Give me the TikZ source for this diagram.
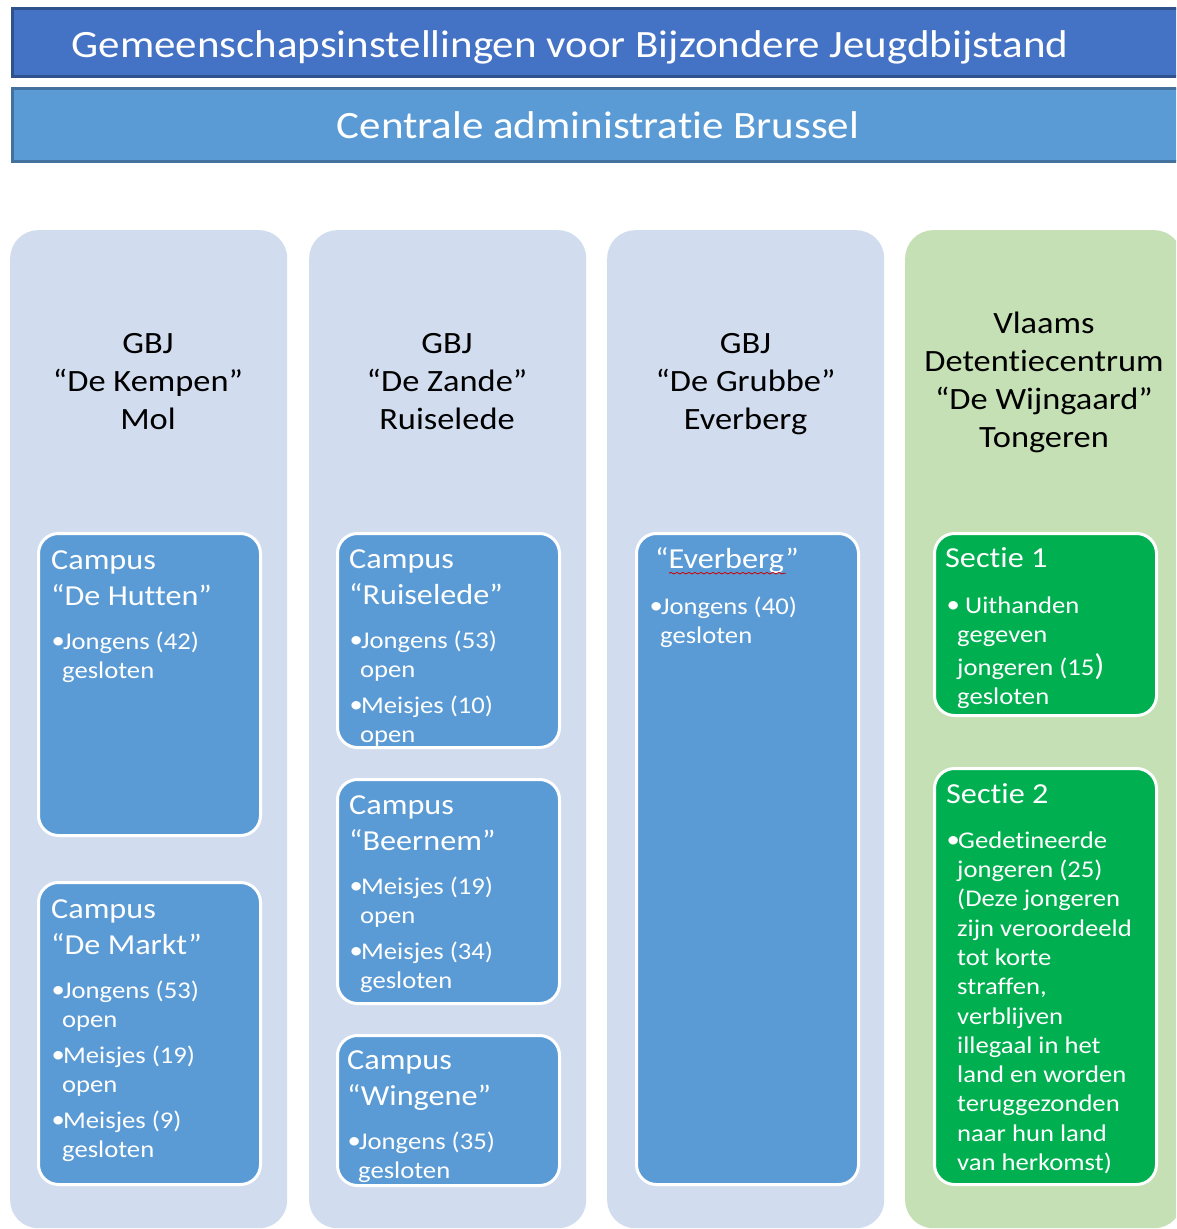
\documentclass[tikz,border=0pt]{standalone}
\usepackage{fontspec}
\setmainfont{Carlito}[FakeStretch=1.11, Ligatures=NoCommon]
\usetikzlibrary{decorations.pathmorphing}
\definecolor{hdrAfill}{HTML}{4472C4}
\definecolor{hdrAline}{HTML}{2F528F}
\definecolor{hdrBfill}{HTML}{5B9BD5}
\definecolor{hdrBline}{HTML}{41719C}
\definecolor{colblue}{HTML}{D1DDEF}
\definecolor{colgreen}{HTML}{C5E0B4}
\definecolor{boxblue}{HTML}{5B9BD5}
\definecolor{boxgreen}{HTML}{00B050}
\newcommand\hdrfont{\fontsize{38.7}{46}\selectfont}
\newcommand\colfont{\fontsize{31}{38}\selectfont}
\newcommand\ttlfont{\fontsize{29}{36}\selectfont}
\newcommand\bulfont{\fontsize{24}{29}\selectfont}
\newcommand\bul{\makebox[12pt][l]{\hspace*{0.5pt}\raisebox{0.5pt}{•}}}
\newcommand\bcont{\hspace*{11pt}}
\tikzset{
  hdrone/.style={draw=hdrAline, line width=2.5pt, fill=hdrAfill, rectangle, inner sep=0pt, anchor=north west},
  hdrtwo/.style={draw=hdrBline, line width=2.5pt, fill=hdrBfill, rectangle, inner sep=0pt, anchor=north west},
  hdrtext/.style={text=white, font=\hdrfont, inner sep=0pt, anchor=base},
  colbox/.style={fill=colblue, rounded corners=28pt, minimum width=277pt, minimum height=998pt, inner sep=0pt, anchor=north west},
  colgbox/.style={colbox, fill=colgreen},
  coltext/.style={text=black, font=\colfont, align=center, inner sep=0pt, anchor=north},
  campus/.style={fill=boxblue, draw=white, line width=3pt, rounded corners=20pt, minimum width=222pt, inner sep=0pt, anchor=north west},
  sectie/.style={campus, fill=boxgreen},
  ttl/.style={text=white, font=\ttlfont, align=left, inner sep=0pt, anchor=north west},
  bultext/.style={text=white, font=\bulfont, align=left, inner sep=0pt, anchor=north west},
}
\begin{document}
\begin{tikzpicture}[x=1pt,y=-1pt]
\useasboundingbox (0,0) rectangle (1176,1229);
\clip (0,0) rectangle (1176,1229);
\fill[white] (0,0) rectangle (1176,1229);

% headers
\node[hdrone, minimum width=1190pt, minimum height=68pt] (h1) at (11,7) {};
\node[hdrtext] (h1t) at (570,57) {Gemeenschapsinstellingen voor Bijzondere Jeugdbijstand};
\node[hdrtwo, minimum width=1190pt, minimum height=73pt] (h2) at (11,87) {};
\node[hdrtext] (h2t) at (598,138) {Centrale administratie Brussel};

% columns
\node[colbox] (c1) at (10,230) {};
\node[colbox] (c2) at (309,230) {};
\node[colbox] (c3) at (607,230) {};
\node[colgbox] (c4) at (905,230) {};

\node[coltext] (c1t) at (148,326.4) {\strut GBJ\\“De Kempen”\\Mol};
\node[coltext] (c2t) at (447,326.4) {\strut GBJ\\“De Zande”\\Ruiselede};
\node[coltext] (c3t) at (745.5,326.4) {\strut GBJ\\“De Grubbe”\\Everberg};
\node[coltext] (c4t) at (1044,306.4) {\strut Vlaams\\Detentiecentrum\\“De Wijngaard”\\Tongeren};

% column 1
\node[campus, minimum height=302pt] (b11) at (37,532) {};
\node[ttl] (b11t) at (51,543.8) {\strut Campus\\“De Hutten”};
\node[bultext] (b11b) at (51,628.7) {\strut\bul Jongens (42)\\\bcont gesloten};

\node[campus, minimum height=302pt] (b12) at (37,881) {};
\node[ttl] (b12t) at (51,892.8) {\strut Campus\\“De Markt”};
\node[bultext] (b12b) at (51,977.7) {\strut\bul Jongens (53)\\\bcont open\\[7pt]\bul Meisjes (19)\\\bcont open\\[7pt]\bul Meisjes (9)\\\bcont gesloten};

% column 2
\node[campus, minimum height=214pt] (b21) at (336,532) {};
\node[ttl] (b21t) at (349,542.8) {\strut Campus\\“Ruiselede”};
\node[bultext] (b21b) at (349,627.7) {\strut\bul Jongens (53)\\\bcont open\\[7pt]\bul Meisjes (10)\\\bcont open};

\node[campus, minimum height=224pt] (b22) at (336,778) {};
\node[ttl] (b22t) at (349,788.8) {\strut Campus\\“Beernem”};
\node[bultext] (b22b) at (349,873.7) {\strut\bul Meisjes (19)\\\bcont open\\[7pt]\bul Meisjes (34)\\\bcont gesloten};

\node[campus, minimum height=150pt] (b23) at (336,1034) {};
\node[ttl] (b23t) at (347,1043.8) {\strut Campus\\“Wingene”};
\node[bultext] (b23b) at (347,1128.7) {\strut\bul Jongens (35)\\\bcont gesloten};

% column 3
\node[campus, minimum height=651pt] (b31) at (635,532) {};
\node[ttl] (b31t) at (655,542.8) {\strut “Everberg”};
\draw[red!80!black, line width=0.8pt, decorate, decoration={snake, amplitude=0.8pt, segment length=6pt}]
  ([xshift=14pt,yshift=-5pt]b31t.base west) -- ([xshift=-13pt,yshift=-5pt]b31t.base east);
\node[bultext] (b31b) at (649,593.7) {\strut\bul Jongens (40)\\\bcont gesloten};

% column 4
\node[sectie, minimum height=182pt] (b41) at (933,532) {};
\node[ttl] (b41t) at (945,541.8) {\strut Sectie 1};
\node[bultext] (b41b) at (946,592.7) {\strut\makebox[19pt][l]{\hspace*{0.5pt}\raisebox{0.5pt}{•}}Uithanden\\\hspace*{11pt}gegeven\\[4pt]\hspace*{11pt}jongeren (15{\fontsize{30}{30}\selectfont )}\\\hspace*{11pt}gesloten};

\node[sectie, minimum height=416pt] (b42) at (933,767) {};
\node[ttl] (b42t) at (946,777.8) {\strut Sectie 2};
\node[bultext, font=\fontsize{24}{29.3}\selectfont] (b42b) at (946,827.5) {\strut\bul Gedetineerde\\\bcont jongeren (25)\\\bcont (Deze jongeren\\\bcont zijn veroordeeld\\\bcont tot korte\\\bcont straffen,\\\bcont verblijven\\\bcont illegaal in het\\\bcont land en worden\\\bcont teruggezonden\\\bcont naar hun land\\\bcont van herkomst)};
\end{tikzpicture}
\end{document}
